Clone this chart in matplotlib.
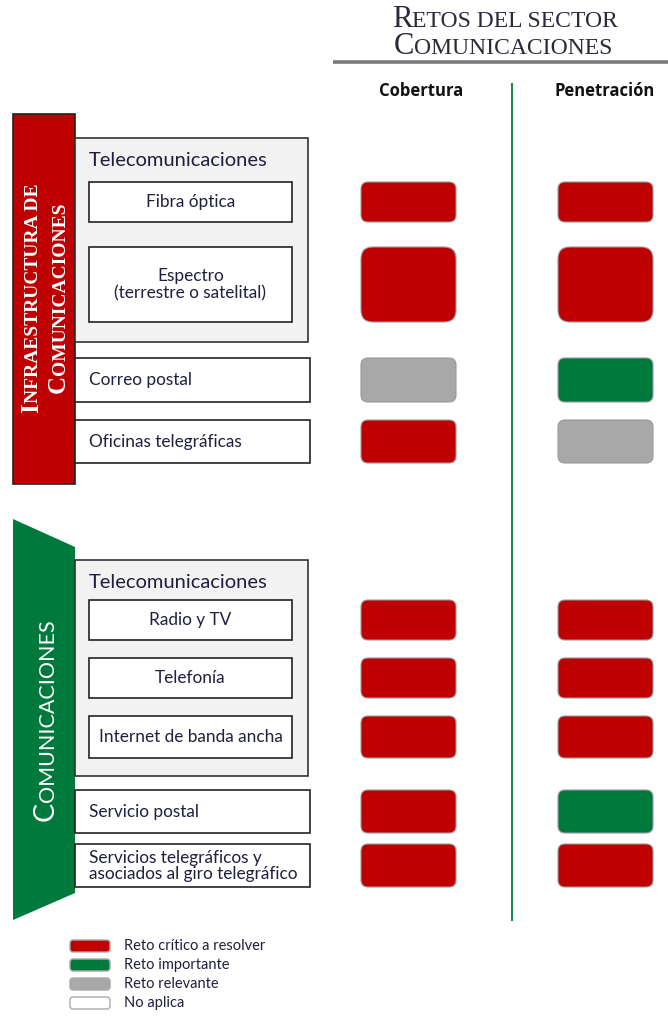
import matplotlib
matplotlib.use('Agg')
import matplotlib.pyplot as plt
from matplotlib.patches import Rectangle, FancyBboxPatch, Polygon

# ---------------- data ----------------
title_lines = [("R", "ETOS DEL SECTOR"), ("C", "OMUNICACIONES")]
columns = ["Cobertura", "Penetración"]
group_top_line1 = [("I", True), ("NFRAESTRUCTURA DE", False)]
group_top_line2 = [("C", True), ("OMUNICACIONES", False)]
group_bottom = [("C", True), ("OMUNICACIONES", False)]
subgroup_label = "Telecomunicaciones"
rows = ["Fibra óptica", "Espectro\n(terrestre o satelital)", "Correo postal",
        "Oficinas telegráficas", "Radio y TV", "Telefonía",
        "Internet de banda ancha", "Servicio postal",
        "Servicios telegráficos y\nasociados al giro telegráfico"]
cobertura = ["critico", "critico", "relevante", "critico", "critico",
             "critico", "critico", "critico", "critico"]
penetracion = ["critico", "critico", "importante", "relevante", "critico",
               "critico", "critico", "importante", "critico"]
legend_keys = ["critico", "importante", "relevante", "na"]
legend_labels = ["Reto crítico a resolver", "Reto importante",
                 "Reto relevante", "No aplica"]

# ---------------- layout / style ----------------
colors = {"critico": "#bf0000", "importante": "#007a3c",
          "relevante": "#a8a8a8", "na": "#ffffff"}
row_y = [(182, 222), (247, 322), (358, 402), (420, 463), (600, 640),
         (658, 698), (716, 758), (790, 833), (844, 887)]
nested = [True, True, False, False, True, True, True, False, False]
col_x = [(361, 456), (558, 653)]
col_cx = [421, 605]
TXT = "#1f1f3f"
SANS = ["Lato", "DejaVu Sans"]
SERIF = ["Liberation Serif", "DejaVu Serif"]

W, H = 668, 1017
fig = plt.figure(figsize=(W / 100, H / 100), dpi=100)
ax = fig.add_axes([0, 0, 1, 1])
ax.set_xlim(0, W)
ax.set_ylim(0, H)
ax.axis("off")
renderer = fig.canvas.get_renderer()


def Y(y):
    return H - y


def text_width(s, **kw):
    t = ax.text(0, 0, s, **kw)
    w = t.get_window_extent(renderer).width
    t.remove()
    return w


def piece_width(p, **kw):
    if p == " ":
        return text_width("x x", **kw) - text_width("xx", **kw)
    return text_width(p, **kw)


def small_caps(x, y, parts, big, small, rotation=0, **kw):
    """parts: list of (text, is_big). Horizontal: centred at x, baseline y.
    Vertical: baseline at x, centred at y (pixels from top)."""
    widths = [piece_width(p, fontsize=(big if b else small), **kw) for p, b in parts]
    total = sum(widths)
    pos = -total / 2
    for (p, b), w in zip(parts, widths):
        fs = big if b else small
        if rotation == 0:
            ax.text(x + pos, Y(y), p, fontsize=fs, ha="left", va="baseline", **kw)
        else:
            ax.text(x, Y(y) + pos, p, fontsize=fs, ha="left", va="baseline",
                    rotation=90, rotation_mode="anchor", **kw)
        pos += w


# title
small_caps(505, 27, [(title_lines[0][0], True), (title_lines[0][1], False)],
           22, 17, color="#2a2a3a", family=SERIF)
small_caps(503, 54, [(title_lines[1][0], True), (title_lines[1][1], False)],
           22, 17, color="#2a2a3a", family=SERIF)
ax.plot([333, 668], [Y(62), Y(62)], color="#7a7a7a", lw=2.6, solid_capstyle="butt")

for cx, name in zip(col_cx, columns):
    ax.text(cx, Y(91), name, ha="center", va="center", fontsize=12,
            fontweight="bold", color="#111111", family=["Open Sans", "DejaVu Sans"])
ax.plot([512, 512], [Y(84), Y(920)], color="#1e8a4c", lw=1.5)

# side bars
ax.add_patch(Rectangle((13, Y(484)), 62, 370, facecolor="#bf0000",
                       edgecolor="#222222", lw=1.2))
ax.add_patch(Polygon([(13, Y(519)), (75, Y(547)), (75, Y(893)), (13, Y(920))],
                     closed=True, facecolor="#007a3c", edgecolor="none"))

# rotated group labels
small_caps(38, 298, group_top_line1, 18, 14, rotation=90,
           color="white", family=SERIF, fontweight="bold")
small_caps(65, 298, group_top_line2, 18, 14, rotation=90,
           color="white", family=SERIF, fontweight="bold")
small_caps(54, 720, group_bottom, 20.5, 15.5, rotation=90,
           color="white", family=SANS)

# subgroup boxes
for (y0, y1) in [(138, 342), (560, 776)]:
    ax.add_patch(Rectangle((75, Y(y1)), 233, y1 - y0, facecolor="#f2f2f2",
                           edgecolor="#333333", lw=1.2))
    ax.text(89, Y(y0 + 22), subgroup_label, ha="left", va="center",
            fontsize=14.5, color=TXT, family=SANS)

# rows
for i, label in enumerate(rows):
    y0, y1 = row_y[i]
    if nested[i]:
        ax.add_patch(Rectangle((89, Y(y1)), 203, y1 - y0, facecolor="white",
                               edgecolor="#222222", lw=1.2))
        ax.text(190.5, Y((y0 + y1) / 2), label, ha="center", va="center",
                fontsize=12.4, color=TXT, family=SANS, linespacing=1.1)
    else:
        ax.add_patch(Rectangle((75, Y(y1)), 235, y1 - y0, facecolor="white",
                               edgecolor="#222222", lw=1.2))
        ax.text(89, Y((y0 + y1) / 2), label, ha="left", va="center",
                fontsize=12.4, color=TXT, family=SANS, linespacing=1.0)
    for (x0, x1), st in zip(col_x, [cobertura[i], penetracion[i]]):
        r = 7 if y1 - y0 < 50 else 12
        ax.add_patch(FancyBboxPatch((x0, Y(y1)), x1 - x0, y1 - y0,
                                    boxstyle=f"round,pad=0,rounding_size={r}",
                                    facecolor=colors[st], edgecolor="#9a9a9a",
                                    lw=0.8))

# legend
for k, (key, lab) in enumerate(zip(legend_keys, legend_labels)):
    y = 946 + k * 19
    ax.add_patch(FancyBboxPatch((70, Y(y + 6)), 40, 12,
                                boxstyle="round,pad=0,rounding_size=3",
                                facecolor=colors[key], edgecolor="#aaaaaa",
                                lw=1.0))
    ax.text(124, Y(y), lab, ha="left", va="center", fontsize=10.5, color=TXT,
            family=SANS)

fig.savefig("out.png", dpi=100)
